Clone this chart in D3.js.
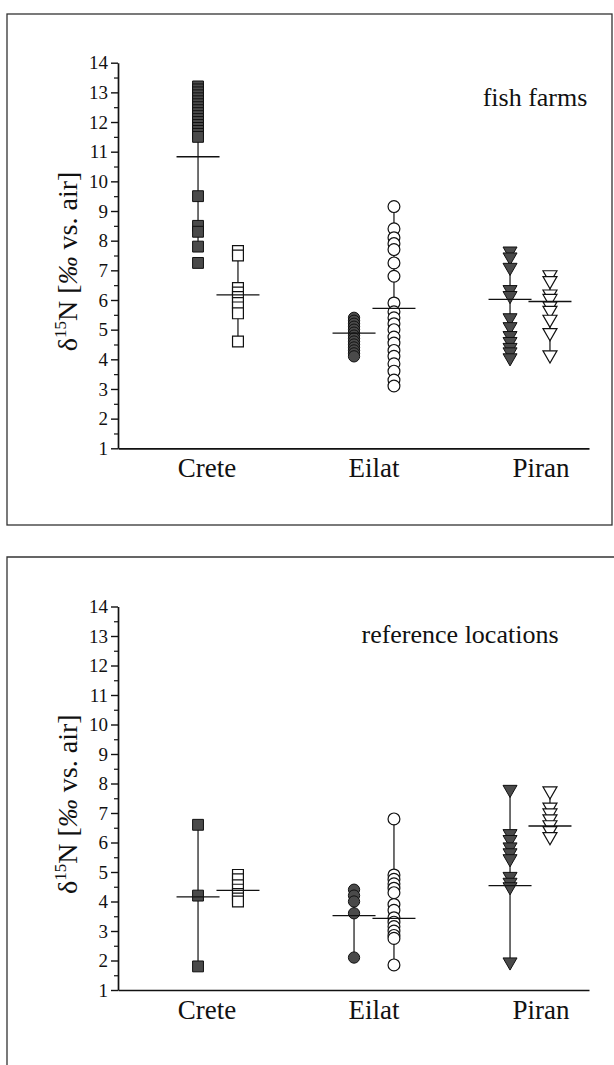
<!DOCTYPE html>
<html><head><meta charset="utf-8">
<script src="https://cdn.jsdelivr.net/npm/d3@7"></script>
<style>body{margin:0;background:#fff}svg{display:block}</style>
</head><body><svg id="c" width="614" height="1065"></svg>
<script>
// ---------- data ----------
const categories = ["Crete", "Eilat", "Piran"];
const yTickValues = [1,2,3,4,5,6,7,8,9,10,11,12,13,14];
const yMinorValues = [1.5,2.5,3.5,4.5,5.5,6.5,7.5,8.5,9.5,10.5,11.5,12.5,13.5];
const panelTitles = ["fish farms", "reference locations"];

// fish farms panel
const ffCreteFilled = [13.2,13.1,13.0,12.9,12.8,12.7,12.6,12.5,12.4,12.3,12.2,12.1,12.0,11.9,11.8,11.7,11.6,11.5,9.5,8.5,8.3,7.8,7.25];
const ffCreteOpen   = [7.65,7.5,6.4,6.25,6.1,5.9,5.75,5.55,4.6];
const ffEilatFilled = [5.4,5.3,5.2,5.1,5.0,4.9,4.8,4.7,4.6,4.5,4.4,4.3,4.2,4.1];
const ffEilatOpen   = [9.15,8.4,8.1,7.9,7.7,7.25,6.8,5.9,5.6,5.4,5.2,5.0,4.75,4.55,4.3,4.1,3.85,3.6,3.3,3.1];
const ffPiranFilled = [7.65,7.45,7.1,6.35,6.15,5.4,5.1,4.8,4.6,4.4,4.25,4.05];
const ffPiranOpen   = [6.85,6.65,6.2,6.05,5.8,5.65,5.35,4.9,4.15];
const ffMeans = [10.83, 6.17, 4.88, 5.72, 6.02, 5.95];
const ffLow   = [7.95, 4.6, 4.1, 3.1, 4.05, 4.15];
const ffHigh  = [13.2, 7.65, 5.4, 9.15, 7.65, 6.85];

// reference locations panel
const refCreteFilled = [6.6, 4.2, 1.8];
const refCreteOpen   = [4.9, 4.75, 4.55, 4.4, 4.25, 4.1, 4.0];
const refEilatFilled = [4.4, 4.2, 4.0, 3.6, 2.1];
const refEilatOpen   = [6.8, 4.9, 4.75, 4.6, 4.45, 4.3, 3.9, 3.7, 3.45, 3.3, 3.15, 3.0, 2.85, 2.75, 1.85];
const refPiranFilled = [7.8, 6.3, 6.1, 5.85, 5.65, 5.45, 4.85, 4.65, 4.5, 1.95];
const refPiranOpen   = [7.75, 7.2, 7.0, 6.8, 6.6, 6.4, 6.2];
const refMeans = [4.16, 4.38, 3.52, 3.43, 4.54, 6.56];
const refLow   = [1.8, 4.0, 2.1, 1.85, 1.95, 6.2];
const refHigh  = [6.6, 4.9, 4.4, 6.8, 7.8, 7.75];

const markerShapes = ["square", "circle", "triangle"];

function buildSeries(lists, means, lows, highs) {
  const out = [];
  lists.forEach((vals, i) => {
    const cat = Math.floor(i / 2);
    out.push({cat, filled: i % 2 === 0, shape: markerShapes[cat], values: vals,
              mean: means[i], low: lows[i], high: highs[i]});
  });
  return out;
}
const panels = [
  {title: panelTitles[0], top: 62.7, bottom: 448.3, titleX: 535, titleY: 106,
   series: buildSeries([ffCreteFilled, ffCreteOpen, ffEilatFilled, ffEilatOpen, ffPiranFilled, ffPiranOpen], ffMeans, ffLow, ffHigh)},
  {title: panelTitles[1], top: 606.5, bottom: 990, titleX: 460, titleY: 643,
   series: buildSeries([refCreteFilled, refCreteOpen, refEilatFilled, refEilatOpen, refPiranFilled, refPiranOpen], refMeans, refLow, refHigh)}
];

// ---------- drawing ----------
const svg = d3.select("#c");
const serif = "'Liberation Serif','Times New Roman',serif";

// frames
svg.append("rect").attr("x", 7).attr("y", 14).attr("width", 605).attr("height", 511)
  .attr("fill", "none").attr("stroke", "#333").attr("stroke-width", 1.3);
svg.append("path").attr("d", "M7,1066V557H614")
  .attr("fill", "none").attr("stroke", "#333").attr("stroke-width", 1.3);

const axisLeftX = 118, axisRightX = 589;
const xGroup = d3.scaleLinear().domain([0, 2]).range([218, 530]);
const colOffset = 0.128;
const xLabel = d3.scalePoint().domain(categories).range([207, 541]);

const sym = {
  square: d3.symbol().type(d3.symbolSquare).size(118),
  circle: d3.symbol().type(d3.symbolCircle).size(110),
  triangle: d3.symbol().type(d3.symbolTriangle).size(85)
};
const symFilledCircle = d3.symbol().type(d3.symbolCircle).size(100);

panels.forEach(p => {
  const y = d3.scaleLinear().domain([1, 14]).range([p.bottom, p.top]);
  const g = svg.append("g");

  // y axis major
  const ya = g.append("g").attr("transform", `translate(${axisLeftX},0)`)
    .call(d3.axisLeft(y).tickValues(yTickValues).tickSize(7).tickSizeOuter(0).tickPadding(3).tickFormat(d3.format("d")));
  ya.attr("font-family", null).attr("font-size", null);
  ya.select(".domain").attr("stroke", "#111").attr("stroke-width", 1.7);
  ya.selectAll(".tick line").attr("stroke", "#111").attr("stroke-width", 1.4);
  ya.selectAll(".tick text").style("font-family", serif).style("font-size", "19px").attr("fill", "#111");
  // minor ticks
  const ym = g.append("g").attr("transform", `translate(${axisLeftX},0)`)
    .call(d3.axisLeft(y).tickValues(yMinorValues).tickSize(4).tickFormat(""));
  ym.select(".domain").remove();
  ym.selectAll(".tick line").attr("stroke", "#111").attr("stroke-width", 1.2);

  // x axis line
  const xa = g.append("g").attr("transform", `translate(0,${p.bottom})`)
    .call(d3.axisBottom(d3.scaleLinear().range([axisLeftX, axisRightX])).tickValues([]).tickSizeOuter(0));
  xa.select(".domain").attr("stroke", "#111").attr("stroke-width", 1.7);

  // category labels
  g.selectAll(".cat").data(categories).join("text")
    .attr("x", d => xLabel(d)).attr("y", p.bottom + 29)
    .attr("text-anchor", "middle").style("font-family", serif).style("font-size", "27px").attr("fill", "#111")
    .text(d => d);

  // panel title
  g.append("text").attr("x", p.titleX).attr("y", p.titleY).attr("text-anchor", "middle")
    .style("font-family", serif).style("font-size", "26px").attr("fill", "#111").text(p.title);

  // y title
  const yt = g.append("text")
    .attr("transform", `translate(77,${y(7.3)}) rotate(-90)`)
    .attr("text-anchor", "middle").style("font-family", serif).style("font-size", "28px").attr("fill", "#111");
  yt.append("tspan").text("δ");
  yt.append("tspan").style("font-size", "17px").attr("dy", -11).text("15");
  yt.append("tspan").attr("dy", 11).text("N [");
  yt.append("tspan").style("font-style", "italic").text("‰");
  yt.append("tspan").text(" vs. air]");

  // series
  p.series.forEach(s => {
    const cx = xGroup(s.cat + (s.filled ? -colOffset : colOffset));
    g.append("line").attr("x1", cx).attr("x2", cx).attr("y1", y(s.low)).attr("y2", y(s.high))
      .attr("stroke", "#111").attr("stroke-width", 1.2);
    const gen = (s.shape === "circle" && s.filled) ? symFilledCircle : sym[s.shape];
    g.selectAll(null).data(s.values).join("path")
      .attr("d", gen())
      .attr("transform", d => `translate(${cx},${y(d)})` + (s.shape === "triangle" ? " rotate(180)" : ""))
      .attr("fill", s.filled ? "#4a4a4a" : "#fff")
      .attr("stroke", "#111").attr("stroke-width", s.filled ? 1 : 1.2);
  });
  p.series.forEach(s => {
    const cx = xGroup(s.cat + (s.filled ? -colOffset : colOffset));
    g.append("line").attr("x1", cx - 21.5).attr("x2", cx + 21.5).attr("y1", y(s.mean)).attr("y2", y(s.mean))
      .attr("stroke", "#111").attr("stroke-width", 1.3);
  });
});
</script>
</body></html>
